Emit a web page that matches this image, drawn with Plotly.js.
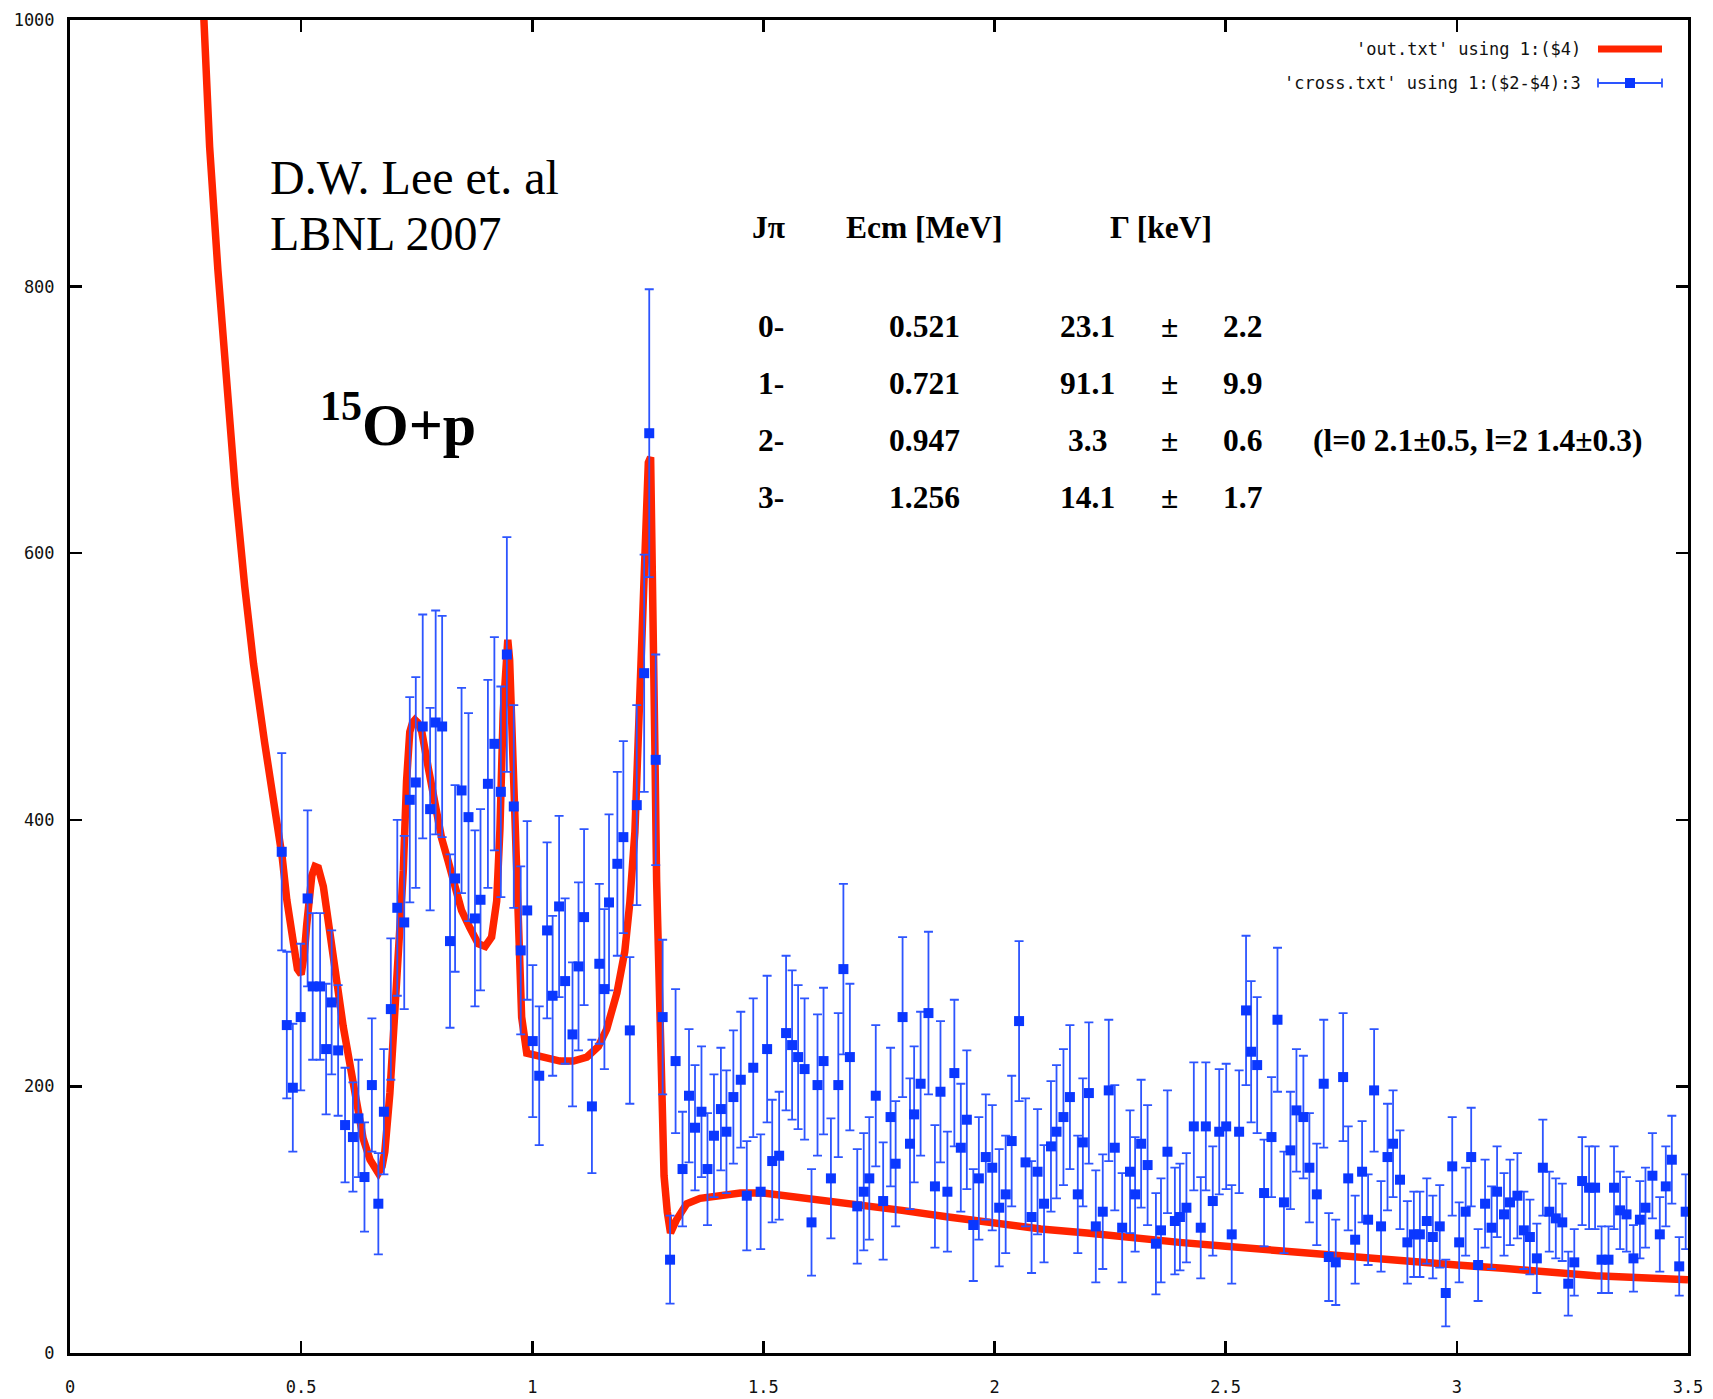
<!DOCTYPE html>
<html>
<head>
<meta charset="utf-8">
<script src="https://cdn.plot.ly/plotly-3.0.1.min.js"></script>
<style>html,body{margin:0;padding:0;background:#fff;}#chart{width:1713px;height:1399px;}</style>
</head>
<body>
<div id="chart"></div>
<script>
// ---- fit curve ('out.txt' using 1:($4)) ----
const fitE = [0.278,0.288,0.302,0.320,0.338,0.357,0.378,0.397,0.421,0.444,0.459,0.469,0.483,0.492,0.500,0.507,0.512,0.523,0.530,0.537,0.548,0.562,0.577,0.591,0.606,0.620,0.634,0.649,0.660,0.667,0.675,0.681,0.692,0.703,0.714,0.721,0.728,0.735,0.741,0.746,0.752,0.761,0.775,0.790,0.804,0.818,0.833,0.847,0.865,0.883,0.898,0.912,0.923,0.930,0.937,0.943,0.947,0.951,0.955,0.963,0.970,0.977,0.988,1.002,1.031,1.060,1.089,1.118,1.143,1.161,1.183,1.200,1.211,1.222,1.229,1.237,1.244,1.251,1.256,1.260,1.265,1.269,1.275,1.280,1.285,1.292,1.299,1.312,1.334,1.363,1.399,1.45,1.5,1.6,1.7,1.8,1.9,2.0,2.1,2.2,2.3,2.4,2.5,2.6,2.7,2.8,2.9,3.0,3.1,3.2,3.3,3.4,3.5];
const fitSigma = [1090,1000,905,812,730,650,575,517,458,408,372,340,302,288,284,300,321,358,365,364,350,312,279,245,218,192,161,145,137,135,140,151,195,262,319,362,429,466,473,475,473,466,439,409,386,369,349,332,319,307,305,312,339,393,480,525,535,520,480,393,312,252,225,224,222,219,219,222,230,243,270,301,338,391,459,533,617,668,672,600,459,354,275,196,133,106,90,100,112,116,118,120,120,116,112,107,102,97,93,90,86,83,80,77,74,71,68.5,66,63.5,60.5,58,56.5,55];

// ---- data ('cross.txt' using 1:($2-$4):3) ----
const energy = [
0.458,0.469,0.482,0.499,0.514,0.525,0.541,0.554,0.566,0.580,0.595,0.612,0.624,0.637,0.653,0.667,0.679,0.694,0.708,0.723,0.735,0.748,0.763,0.779,0.791,0.805,0.822,0.833,0.847,0.862,0.876,0.888,0.904,0.918,0.932,0.945,0.960,0.975,0.989,
1.001,1.015,1.032,1.044,1.058,1.071,1.087,1.100,1.112,1.129,1.145,1.156,1.166,1.184,1.197,1.211,1.226,1.242,1.253,1.267,1.282,1.298,
1.310,1.325,1.339,1.352,1.366,1.379,1.393,1.408,1.420,1.435,1.451,1.464,1.478,1.494,
1.508,1.519,1.534,1.549,1.562,1.575,1.589,1.604,1.617,1.630,1.646,1.662,1.673,1.687,1.703,1.717,1.729,1.743,1.759,1.775,1.786,1.801,1.817,1.826,1.840,1.857,1.871,1.883,1.898,1.913,1.927,1.940,1.954,1.966,1.981,1.995,2.010,2.024,2.037,2.053,2.067,2.080,2.093,2.107,2.122,2.134,2.149,2.163,2.180,2.191,2.204,2.219,
2.234,2.247,2.260,2.276,2.293,2.304,2.317,2.331,2.349,2.360,2.374,2.390,2.401,2.415,2.431,2.446,2.457,2.472,2.486,2.501,2.513,2.529,2.544,2.555,2.568,2.583,2.599,2.612,2.626,2.640,2.653,2.668,2.681,2.697,2.712,2.723,2.738,2.754,2.765,2.780,2.795,2.808,2.821,2.836,2.850,2.862,2.877,2.893,2.907,2.920,
2.935,2.948,2.963,2.976,2.990,3.005,3.019,3.031,3.046,3.061,3.075,3.087,3.102,3.115,3.131,3.145,3.158,3.173,3.186,3.200,3.214,3.228,3.241,3.254,3.271,3.286,3.299,3.313,3.328,3.340,3.353,3.367,3.382,3.396,3.408,3.423,3.439,3.452,3.465,3.481,3.495];
const crossSection = [
376,246,199,252,341,275,275,228,263,227,171,162,176,132,201,112,181,258,334,323,415,428,470,408,473,470,309,356,422,402,326,340,427,457,421,524,410,302,332,
234,208,317,268,335,279,239,290,327,185,292,273,338,367,387,242,411,510,690,445,252,70,
219,138,193,169,181,138,163,183,166,192,205,118,214,121,
228,144,148,240,231,222,213,98,201,219,131,201,288,222,110,121,131,193,114,177,142,252,157,179,202,255,125,196,121,210,154,175,96,131,147,139,109,119,159,249,143,102,136,112,155,166,177,192,119,158,195,95,
106,197,154,94,136,119,157,141,82,92,151,99,102,109,170,94,170,114,166,170,89,166,257,226,216,120,162,250,113,152,182,177,139,119,202,72,68,207,131,85,136,100,197,95,147,157,130,83,89,89,
99,87,95,45,140,83,106,147,66,112,94,121,104,113,118,92,87,71,139,106,101,98,52,68,129,124,124,70,70,124,107,104,71,100,109,133,89,125,145,65,106];
const crossErr = [
74,55,48,55,66,55,55,49,54,49,43,41,44,41,50,38,47,53,66,65,77,79,84,76,84,83,65,70,77,78,66,68,78,80,79,88,76,63,67,
57,52,66,60,68,62,54,63,66,50,60,60,66,69,72,55,75,89,108,79,58,33,
54,43,50,47,49,42,46,46,46,50,51,41,52,43,
55,46,48,58,56,54,53,40,53,55,45,54,64,55,43,44,46,53,44,52,47,60,49,51,54,61,46,53,45,55,48,52,42,46,47,47,44,44,49,60,48,42,47,44,49,50,51,54,44,48,53,42,
43,53,47,41,46,43,48,45,38,39,46,40,40,41,48,38,48,41,47,47,37,46,56,53,51,40,45,54,38,44,46,46,41,38,48,33,32,48,39,33,38,34,46,34,40,40,37,31,32,32,
32,31,31,25,37,30,33,37,27,33,31,34,31,32,32,29,28,26,36,30,30,29,24,25,33,31,31,25,25,31,29,28,25,29,30,32,28,30,33,22,28];

// ---- ticks ----
const xTicks = [0,0.5,1,1.5,2,2.5,3,3.5];
const yTicks = [0,200,400,600,800,1000];

// ---- legend labels ----
const legendFit = "'out.txt' using 1:($4)";
const legendData = "'cross.txt' using 1:($2-$4):3";

// ---- resonance table ----
const tableHead = ['J\u03c0', 'Ecm [MeV]', '\u0393 [keV]'];
const jPi = ['0-','1-','2-','3-'];
const eCm = ['0.521','0.721','0.947','1.256'];
const gammaVal = ['23.1','91.1','3.3','14.1'];
const gammaErr = ['2.2','9.9','0.6','1.7'];
const rowNote = ['', '', '(l=0 2.1\u00b10.5, l=2 1.4\u00b10.3)', ''];

// ---- geometry helpers (pixel -> paper) ----
const W = 1713, H = 1399, ML = 70, MR = 25, MT = 20, MB = 46;
const PW = W - ML - MR, PH = H - MT - MB;
const px = v => (v - ML) / PW;
const py = v => (H - MB - v) / PH;

const RED = '#ff2400', BLUE = '#0a37ff', BLUEBAR = '#2d55ff';
const serif = 'Liberation Serif, Times New Roman, serif';
const mono = 'DejaVu Sans Mono, monospace';
const TS = 31.5;

const traces = [
  { x: fitE, y: fitSigma, type: 'scatter', mode: 'lines',
    line: { color: RED, width: 7.5 }, hoverinfo: 'skip', showlegend: false },
  { x: energy, y: crossSection, type: 'scatter', mode: 'markers',
    marker: { symbol: 'square', size: 10, color: BLUE, line: { width: 0 } },
    error_y: { type: 'data', array: crossErr, visible: true, color: BLUEBAR, thickness: 1.8, width: 4.5 },
    showlegend: false }
];

const annotations = [];
function ann(text, x, y, xanchor, size, family, color) {
  annotations.push({ xref: 'paper', yref: 'paper', x: px(x), y: py(y), text: text,
    showarrow: false, xanchor: xanchor, yanchor: 'middle',
    font: { family: family, size: size, color: color || '#000' } });
}
// author text
ann('D.W. Lee et. al', 268, 178, 'left', 48, serif);
ann('LBNL 2007', 268, 234, 'left', 48, serif);
// reaction
ann('<b><sup>15</sup>O+p</b>', 318, 420, 'left', 60, serif);
// table header
ann('<b>' + tableHead[0] + '</b>', 768, 227, 'center', TS, serif);
ann('<b>' + tableHead[1] + '</b>', 924, 227, 'center', TS, serif);
ann('<b>' + tableHead[2] + '</b>', 1161, 227, 'center', TS, serif);
const rowY = [326, 383, 440, 497];
for (let i = 0; i < jPi.length; i++) {
  ann('<b>' + jPi[i] + '</b>', 756, rowY[i], 'left', TS, serif);
  ann('<b>' + eCm[i] + '</b>', 924, rowY[i], 'center', TS, serif);
  ann('<b>' + gammaVal[i] + '</b>', 1087, rowY[i], 'center', TS, serif);
  ann('<b>\u00b1</b>', 1169, rowY[i], 'center', TS, serif);
  ann('<b>' + gammaErr[i] + '</b>', 1242, rowY[i], 'center', TS, serif);
  if (rowNote[i]) ann('<b>' + rowNote[i] + '</b>', 1311, rowY[i], 'left', TS, serif);
}
// legend text
ann(legendFit, 1583, 49, 'right', 17, mono, '#111');
ann(legendData, 1583, 83, 'right', 17, mono, '#111');

const shapes = [
  // red legend sample
  { type: 'line', xref: 'paper', yref: 'paper', x0: px(1598), x1: px(1662), y0: py(49), y1: py(49), line: { color: RED, width: 7 } },
  // blue legend sample: bar + caps + square
  { type: 'line', xref: 'paper', yref: 'paper', x0: px(1598), x1: px(1662), y0: py(83), y1: py(83), line: { color: BLUEBAR, width: 1.8 } },
  { type: 'line', xref: 'paper', yref: 'paper', x0: px(1598), x1: px(1598), y0: py(78.5), y1: py(87.5), line: { color: BLUEBAR, width: 1.8 } },
  { type: 'line', xref: 'paper', yref: 'paper', x0: px(1662), x1: px(1662), y0: py(78.5), y1: py(87.5), line: { color: BLUEBAR, width: 1.8 } },
  { type: 'rect', xref: 'paper', yref: 'paper', x0: px(1625), x1: px(1635), y0: py(78), y1: py(88), fillcolor: BLUE, line: { width: 0 } }
];

const axisCommon = {
  showgrid: false, zeroline: false, showline: true, linecolor: '#000', linewidth: 3,
  mirror: 'allticks', ticks: 'inside', ticklen: 12, tickwidth: 2.5, tickcolor: '#000',
  tickfont: { family: mono, size: 17, color: '#111' }, fixedrange: true
};

const layout = {
  width: W, height: H,
  margin: { l: ML, r: MR, t: MT, b: MB, pad: 0 },
  paper_bgcolor: '#fff', plot_bgcolor: '#fff',
  showlegend: false,
  xaxis: Object.assign({}, axisCommon, { range: [0, 3.5], tickvals: xTicks, ticktext: xTicks.map(String), ticklabelstandoff: 17 }),
  yaxis: Object.assign({}, axisCommon, { range: [0, 1000], tickvals: yTicks, ticktext: yTicks.map(String), ticklabelstandoff: 9 }),
  annotations: annotations,
  shapes: shapes
};

Plotly.newPlot('chart', traces, layout, { staticPlot: true, displayModeBar: false });
</script>
</body>
</html>
